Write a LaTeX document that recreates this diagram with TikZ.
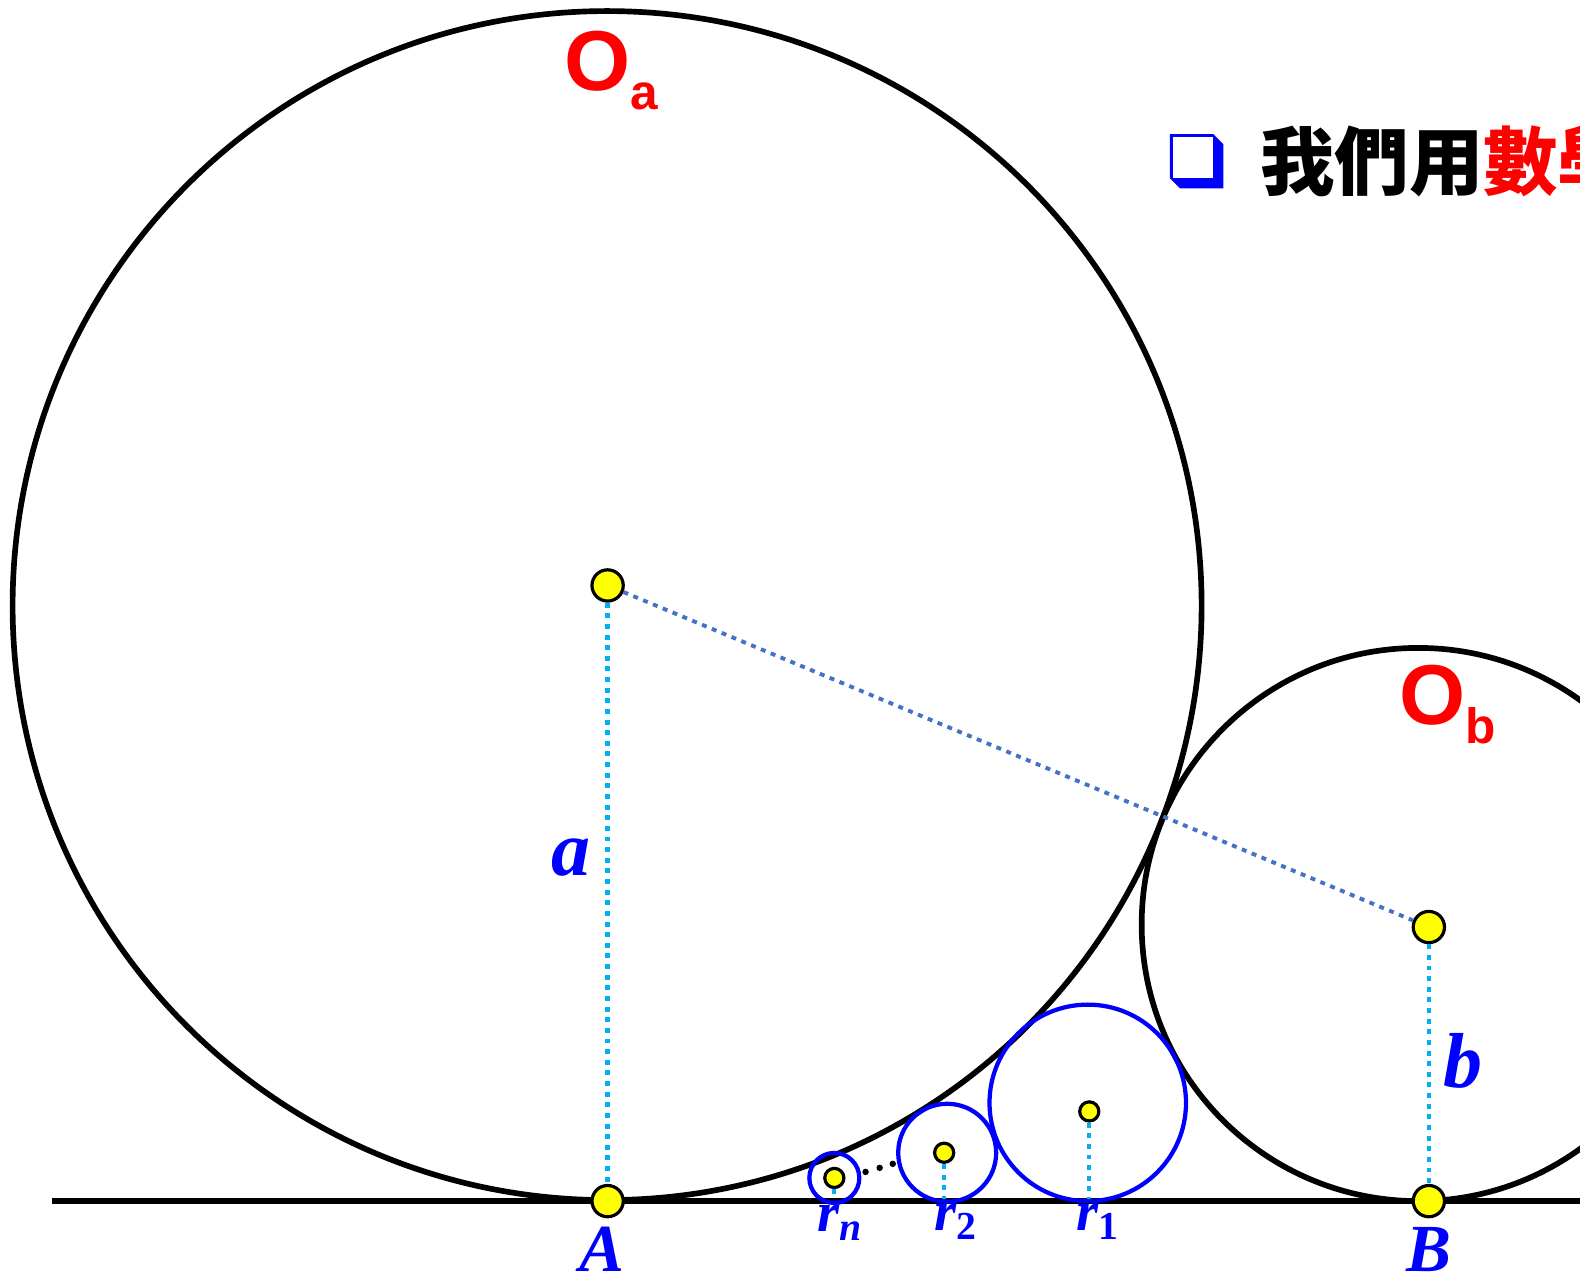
\documentclass[tikz,border=0pt]{standalone}
\usepackage{fontspec}
\setmainfont{Liberation Serif}
\newfontfamily\lblfont{Liberation Sans}
\newfontfamily\cjk{Noto Sans CJK TC}
\usepackage{tikz}
\usetikzlibrary{arrows.meta, positioning, calc}
\definecolor{tgRed}{HTML}{FF0000}
\definecolor{tgBlue}{HTML}{0000FF}
\definecolor{tgYellow}{HTML}{FFFF00}
\definecolor{tgCyan}{HTML}{00B0F0}
\definecolor{tgSteel}{HTML}{4472C4}

\begin{document}
\begin{tikzpicture}[
  x=0.01cm, y=-0.01cm,
  ring/.style={draw=black, line width=1.6pt},
  small/.style={draw=tgBlue, line width=1.2pt},
  dot/.style={circle, draw=black, line width=0.9pt, fill=tgYellow, inner sep=0pt, minimum size=#1},
  dot/.default=0.31cm,
  vline/.style={tgCyan, line width=1.2pt, dash pattern=on 1.4pt off 1.6pt},
  cline/.style={tgSteel, line width=1.1pt, dash pattern=on 1.4pt off 1.6pt},
  lab/.style={text=tgBlue, inner sep=0pt, font=\fontsize{#1}{#1}\selectfont\bfseries\itshape},
  olab/.style={text=tgRed, font=\lblfont\bfseries}
]
  \useasboundingbox (0,0) rectangle (1568,1267);
  \clip (0,0) rectangle (1568,1267);

  % ground and the two big circles
  \draw[ring] (52,1192) -- (1600,1192);
  \draw[ring] (602.5,601) circle[radius=590];
  \draw[ring] (1407.5,917.5) circle[radius=274.5];

  % chain of small circles
  \draw[small] (1079.5,1094.5) circle[radius=97.5];
  \draw[small] (940,1144) circle[radius=48.6];
  \draw[small] (828,1169) circle[radius=24.8];
  \foreach \px/\py in {859/1163, 873/1159, 886/1155}
    \fill (\px,\py) circle[radius=3.2];

  % centres and feet
  \node[dot] (oa) at (603,581) {};
  \node[dot] (ob) at (1418,920) {};
  \node[dot] (pa) at (603,1192) {};
  \node[dot] (pb) at (1418,1192) {};
  \node[dot=0.19cm] (c1) at (1081,1103) {};
  \node[dot=0.19cm] (c2) at (937,1144) {};
  \node[dot=0.19cm] (cn) at (828,1169) {};
  \coordinate (f1) at (1081,1190);
  \coordinate (f2) at (937,1190);
  \coordinate (fn) at (828,1190);

  \draw[cline] (oa) -- (ob);
  \draw[vline] (oa) -- (pa);
  \draw[vline] (ob) -- (pb);
  \draw[vline] (c1) -- (f1);
  \draw[vline] (c2) -- (f2);
  \draw[vline] (cn) -- (fn);

  % labels
  \node[lab=19] (la) at (597,1240) {A};
  \node[lab=19] (lb) at (1418,1240) {B};
  \node[lab=22] (sa) at (567,851) {a};
  \node[lab=22] (sb) at (1452,1053) {b};
  \node[lab=16] (lrn) at (834,1213) {r\textsubscript{n}};
  \node[lab=16] (lr2) at (949,1212) {r\textsubscript{\upshape 2}};
  \node[lab=16] (lr1) at (1090,1212) {r\textsubscript{\upshape 1}};
  \node[olab] (loa) at (607,70) {\fontsize{24}{24}\selectfont O\raisebox{-5.5pt}{\fontsize{14}{14}\selectfont a}};
  \node[olab] (lob) at (1437,699) {\fontsize{24}{24}\selectfont O\raisebox{-5.5pt}{\fontsize{14}{14}\selectfont b}};

  % heading line
  \fill[tgBlue] (1161,133) -- (1204,133) -- (1214,143) -- (1214,187) -- (1171,187) -- (1161,177) -- cycle;
  \fill[white] (1164,136) rectangle (1204,177);
  \node[anchor=west, inner sep=0pt, font=\cjk\bfseries\fontsize{21}{21}\selectfont] (head) at (1250,160)
    {我們用\textcolor{tgRed}{數學}};
\end{tikzpicture}
\end{document}
